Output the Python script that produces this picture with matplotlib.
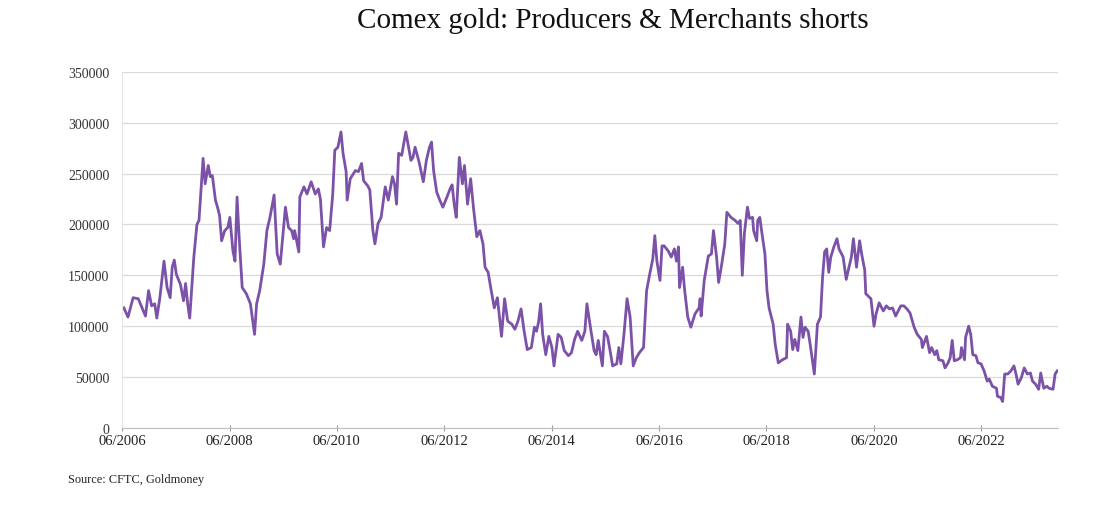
import numpy as np
import pandas as pd
import matplotlib
matplotlib.use('Agg')
import matplotlib.pyplot as plt
import matplotlib.dates as mdates
from matplotlib.ticker import FuncFormatter

# Weekly CFTC report index (weeks after 13 June 2006) and short positions in thousands of contracts
weeks = [0, 4, 9, 14, 21, 24, 27, 30, 32, 35, 39, 42, 45, 47, 49, 51, 55, 58, 60, 62,
         64, 68, 71, 73, 75, 77, 79, 82, 84, 86, 89, 91, 93, 95, 98, 101, 103, 106, 108, 110,
         112, 115, 119, 123, 127, 129, 132, 136, 139, 142, 146, 149, 152, 157, 160, 163, 165, 166, 170, 171,
         175, 178, 182, 186, 189, 191, 194, 197, 200, 203, 205, 208, 211, 213, 216, 217, 220, 225, 228, 231,
         233, 237, 239, 242, 244, 247, 250, 254, 257, 261, 263, 265, 267, 270, 274, 276, 279, 281, 283, 287,
         291, 294, 297, 299, 301, 304, 307, 310, 314, 317, 319, 321, 323, 326, 329, 331, 334, 337, 340, 343,
         346, 349, 351, 354, 357, 360, 363, 367, 370, 373, 377, 380, 383, 386, 389, 392, 396, 399, 401, 403,
         405, 407, 410, 413, 416, 418, 422, 425, 428, 432, 435, 438, 441, 445, 448, 450, 454, 457, 459, 461,
         465, 467, 470, 472, 475, 479, 481, 483, 486, 489, 492, 495, 498, 501, 505, 508, 511, 514, 516, 518,
         521, 523, 525, 529, 532, 535, 537, 539, 540, 543, 545, 548, 551, 555, 559, 560, 561, 564, 568, 571,
         573, 576, 578, 581, 584, 586, 590, 594, 597, 599, 601, 603, 606, 608, 611, 612, 615, 616, 618, 620,
         623, 625, 627, 631, 633, 636, 640, 644, 645, 648, 650, 652, 655, 658, 660, 662, 665, 667, 671, 674,
         677, 679, 681, 683, 685, 687, 690, 693, 695, 699, 702, 704, 707, 709, 712, 715, 717, 720, 721, 725,
         726, 729, 731, 734, 738, 741, 744, 747, 750, 754, 755, 758, 761, 764, 768, 771, 775, 776, 780, 783,
         785, 788, 790, 792, 796, 798, 801, 803, 805, 807, 810, 813, 814, 817, 818, 821, 823, 825, 828, 830,
         833, 836, 839, 841, 844, 848, 849, 852, 854, 856, 859, 862, 865, 867, 869, 872, 875, 878, 881, 883,
         886, 889, 891, 894, 897, 899, 903, 905, 907]
shorts_k = [118, 109, 128, 127, 110, 135, 120, 122, 108, 128, 164, 138, 128, 158, 165, 151, 141, 125, 142, 122,
            108, 168, 200, 204, 235, 265, 240, 258, 247, 248, 224, 217, 209, 184, 194, 197, 207, 174, 164, 227,
            188, 138, 132, 122, 92, 122, 135, 161, 194, 207, 229, 171, 161, 217, 197, 194, 186, 194, 173, 227,
            237, 230, 242, 230, 235, 225, 178, 197, 194, 230, 273, 276, 291, 270, 252, 224, 245, 253, 252, 260,
            243, 238, 234, 194, 181, 201, 207, 237, 224, 247, 240, 220, 270, 268, 291, 280, 263, 266, 276, 261,
            242, 263, 276, 281, 253, 232, 224, 217, 227, 235, 239, 220, 207, 266, 240, 258, 220, 245, 214, 188,
            194, 181, 158, 153, 135, 118, 128, 90, 127, 105, 102, 97, 105, 117, 95, 77, 79, 99, 95, 104,
            122, 92, 72, 90, 79, 61, 92, 89, 76, 71, 74, 87, 95, 86, 95, 122, 95, 76, 72, 86,
            61, 95, 90, 79, 61, 63, 79, 63, 92, 127, 109, 61, 69, 74, 79, 135, 151, 166, 189, 164,
            145, 179, 179, 174, 168, 176, 164, 178, 138, 158, 135, 109, 99, 112, 118, 127, 110, 145, 169, 171,
            194, 168, 143, 161, 181, 212, 207, 204, 201, 204, 150, 191, 217, 206, 207, 194, 184, 204, 207, 192,
            171, 135, 118, 102, 82, 64, 67, 69, 102, 95, 77, 87, 76, 109, 89, 99, 95, 82, 53, 102,
            109, 148, 173, 176, 153, 168, 178, 186, 176, 168, 146, 155, 168, 186, 158, 184, 171, 155, 132, 128,
            127, 100, 112, 123, 115, 120, 117, 118, 110, 118, 120, 120, 117, 113, 99, 92, 87, 79, 90, 74,
            79, 72, 76, 67, 66, 59, 64, 69, 86, 66, 67, 69, 79, 67, 89, 100, 92, 72, 71, 64,
            63, 56, 46, 48, 41, 39, 31, 30, 26, 53, 53, 56, 61, 53, 43, 49, 59, 53, 54, 46,
            43, 38, 54, 39, 41, 39, 38, 53, 56]
tick_years = [2006, 2008, 2010, 2012, 2014, 2016, 2018, 2020, 2022]
y_ticks = [0, 50000, 100000, 150000, 200000, 250000, 300000, 350000]

dates = pd.Timestamp('2006-06-13') + pd.to_timedelta(np.array(weeks) * 7, unit='D')
shorts = np.array(shorts_k) * 1000

plt.rcParams['font.family'] = ['Liberation Serif', 'DejaVu Serif']

fig = plt.figure(figsize=(11, 5.1), dpi=100)
ax = fig.add_axes([0.111, 0.159, 0.851, 0.698])

ax.plot(dates, shorts, color='#7b52a8', linewidth=2.0, solid_joinstyle='round')

ax.set_ylim(0, 350000)
ax.set_yticks(y_ticks)
ax.yaxis.set_major_formatter(FuncFormatter(lambda v, p: '%d' % v))
ax.set_xlim(pd.Timestamp('2006-06-01'), dates[-1] + pd.Timedelta(days=7))
ax.set_xticks([pd.Timestamp('%d-06-01' % y) for y in tick_years])
ax.xaxis.set_major_formatter(mdates.DateFormatter('%m/%Y'))

ax.grid(axis='y', color='#d9d9d9', linewidth=0.9)
ax.set_axisbelow(True)
for side in ['top', 'right']:
    ax.spines[side].set_visible(False)
ax.spines['left'].set_color('#e6e6e6')
ax.spines['bottom'].set_color('#bfbfbf')
ax.tick_params(axis='y', length=0, pad=9, labelsize=10, colors='#333333')
ax.tick_params(axis='x', length=4, direction='inout', color='#999999', pad=2.5,
               labelsize=10.5, labelcolor='#222222')

fig.text(0.557, 0.958, 'Comex gold: Producers & Merchants shorts', ha='center', va='center',
         fontsize=21, color='#111111')
fig.text(0.062, 0.058, 'Source: CFTC, Goldmoney', ha='left', va='center',
         fontsize=8.8, color='#222222')

fig.savefig('out.png', dpi=100)
